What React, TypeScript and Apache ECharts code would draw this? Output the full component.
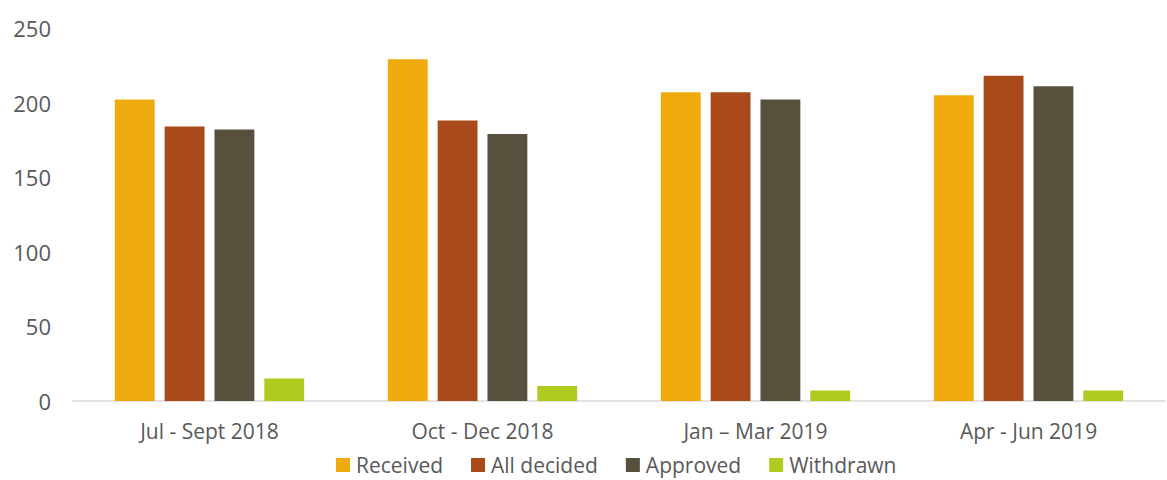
import React, { useEffect, useRef } from "react";
import * as echarts from "echarts";

const categories = ["Jul - Sept 2018", "Oct - Dec 2018", "Jan – Mar 2019", "Apr - Jun 2019"];
const received = [202, 229, 207, 205];
const allDecided = [184, 188, 207, 218];
const approved = [182, 179, 202, 211];
const withdrawn = [15, 10, 7, 7];
const yTicks = { min: 0, max: 250, interval: 50 };

const FONT = "Open Sans";
const TEXT_COLOR = "#595959";

export default function App() {
  const ref = useRef<HTMLDivElement>(null);
  useEffect(() => {
    const chart = echarts.init(ref.current!, null, { renderer: "svg" });
    const mk = (name: string, data: number[], color: string) => ({
      name,
      type: "bar",
      data,
      barWidth: "14.6%",
      barGap: "25%",
      itemStyle: { color },
    });
    chart.setOption({
      animation: false,
      textStyle: { fontFamily: FONT },
      grid: { left: 73, right: 2, top: 28, bottom: 79, containLabel: false },
      legend: {
        top: 449,
        left: 331,
        itemWidth: 14,
        itemHeight: 14,
        itemGap: 28,
        icon: "rect",
        textStyle: { fontFamily: FONT, fontSize: 21, lineHeight: 22, color: TEXT_COLOR, padding: [0, 0, 0, 1] },
      },
      xAxis: {
        type: "category",
        data: categories,
        axisLine: { show: true, lineStyle: { color: "#d9d9d9", width: 1.5 } },
        axisTick: { show: false },
        axisLabel: { fontFamily: FONT, fontSize: 21, color: TEXT_COLOR, margin: 19 },
      },
      yAxis: {
        type: "value",
        min: yTicks.min,
        max: yTicks.max,
        interval: yTicks.interval,
        splitLine: { show: false },
        axisLine: { show: false },
        axisTick: { show: false },
        axisLabel: { fontFamily: FONT, fontSize: 22, color: TEXT_COLOR, margin: 22 },
      },
      series: [
        mk("Received", received, "#efab0e"),
        mk("All decided", allDecided, "#a84a1a"),
        mk("Approved", approved, "#57503c"),
        mk("Withdrawn", withdrawn, "#afcb1f"),
      ],
    });
    return () => chart.dispose();
  }, []);
  return <div ref={ref} style={{ width: 1167, height: 480, position: "absolute", left: 0, top: 0 }} />;
}
